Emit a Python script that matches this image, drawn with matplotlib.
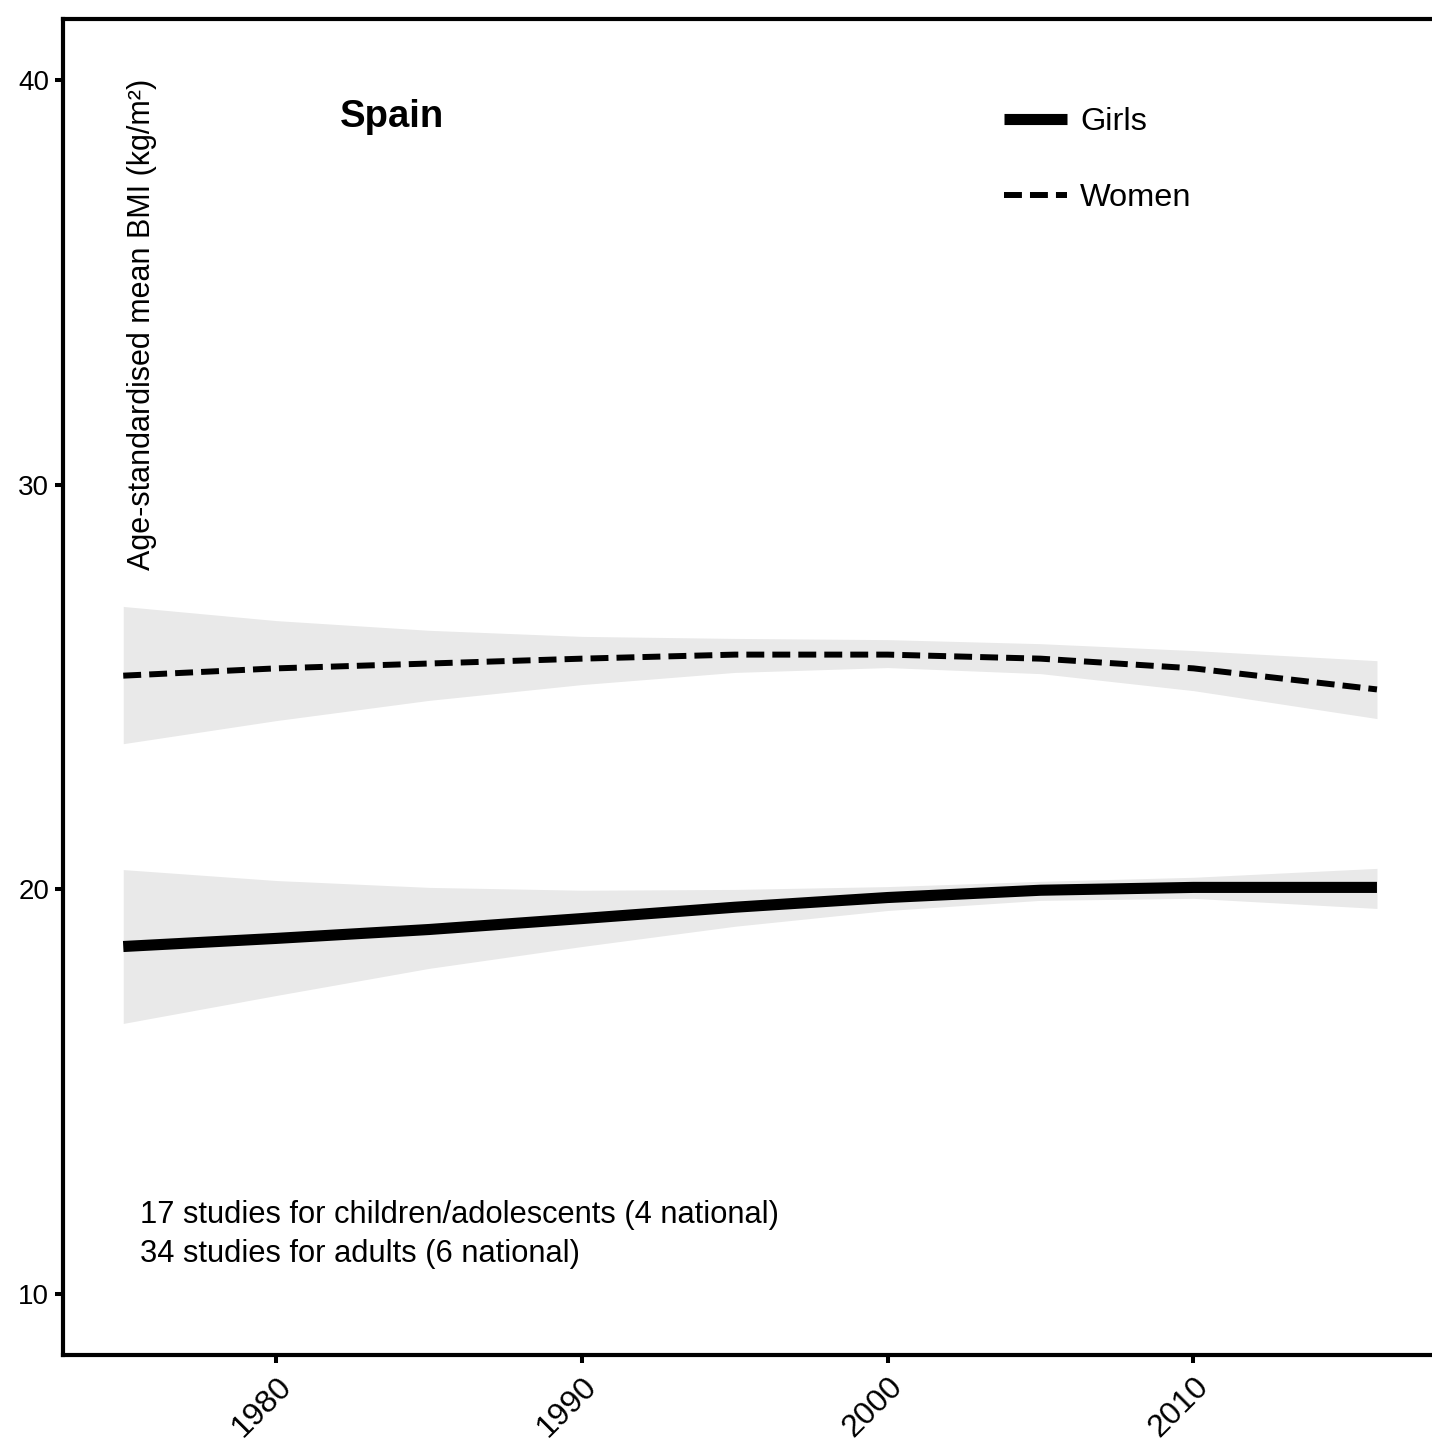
import matplotlib
matplotlib.use("Agg")
import matplotlib.pyplot as plt

plt.rcParams["font.family"] = ["Liberation Sans", "DejaVu Sans"]

# values (age-standardised mean BMI, kg/m2)
years = [1975, 1980, 1985, 1990, 1995, 2000, 2005, 2010, 2016]

girls_mean = [18.59, 18.79, 19.01, 19.28, 19.56, 19.80, 19.98, 20.05, 20.05]
girls_upper = [20.49, 20.22, 20.05, 19.98, 20.00, 20.07, 20.20, 20.30, 20.52]
girls_lower = [16.69, 17.38, 18.05, 18.59, 19.09, 19.48, 19.73, 19.78, 19.53]

women_mean = [25.28, 25.46, 25.58, 25.70, 25.80, 25.80, 25.70, 25.46, 24.94]
women_upper = [26.99, 26.64, 26.40, 26.25, 26.20, 26.17, 26.07, 25.90, 25.65]
women_lower = [23.60, 24.17, 24.67, 25.06, 25.36, 25.48, 25.33, 24.91, 24.22]

xticks = [1980, 1990, 2000, 2010]
yticks = [10, 20, 30, 40]

country = "Spain"
notes = ["17 studies for children/adolescents (4 national)",
         "34 studies for adults (6 national)"]

fig = plt.figure(figsize=(14.32, 14.49), dpi=100)
ax = fig.add_axes([63 / 1432, 94 / 1449, 1369 / 1432, 1336 / 1449])

band = "#e9e9e9"
ax.fill_between(years, girls_lower, girls_upper, color=band, lw=0)
ax.fill_between(years, women_lower, women_upper, color=band, lw=0)
ax.plot(years, girls_mean, color="black", lw=8, solid_capstyle="butt", label="Girls")
ax.plot(years, women_mean, color="black", lw=4.3, dashes=(3, 1.35),
        dash_capstyle="butt", label="Women")

ax.set_xlim(1973.03, 2017.8)
ax.set_ylim(8.5, 41.5)
ax.set_xticks(xticks)
ax.set_yticks(yticks)
ax.set_xticklabels([str(x) for x in xticks], rotation=45, ha="right", va="top",
                   rotation_mode="anchor", fontsize=23)
ax.tick_params(axis="both", direction="out", length=6, width=2.9, colors="black")
ax.tick_params(axis="x", pad=6)
ax.tick_params(axis="y", pad=4, labelsize=20)

for side in ["left", "bottom", "top"]:
    ax.spines[side].set_linewidth(3)
ax.spines["right"].set_visible(False)

ax.text(1975.6, 40.02, "Age-standardised mean BMI (kg/m²)", rotation=90,
        ha="center", va="top", fontsize=22)
ax.text(1982.08, 39.08, country, fontsize=27.5, fontweight="bold",
        ha="left", va="center")
ax.text(1975.55, 11.95, notes[0], fontsize=22.2, ha="left", va="center")
ax.text(1975.55, 11.0, notes[1], fontsize=22.2, ha="left", va="center")

ax.legend(loc="upper left", bbox_to_anchor=(0.687, 0.934), frameon=False,
          fontsize=23.4, handlelength=1.95, handletextpad=0.4,
          labelspacing=1.42, borderpad=0, borderaxespad=0)

fig.savefig("out.png", dpi=100, facecolor="white")
